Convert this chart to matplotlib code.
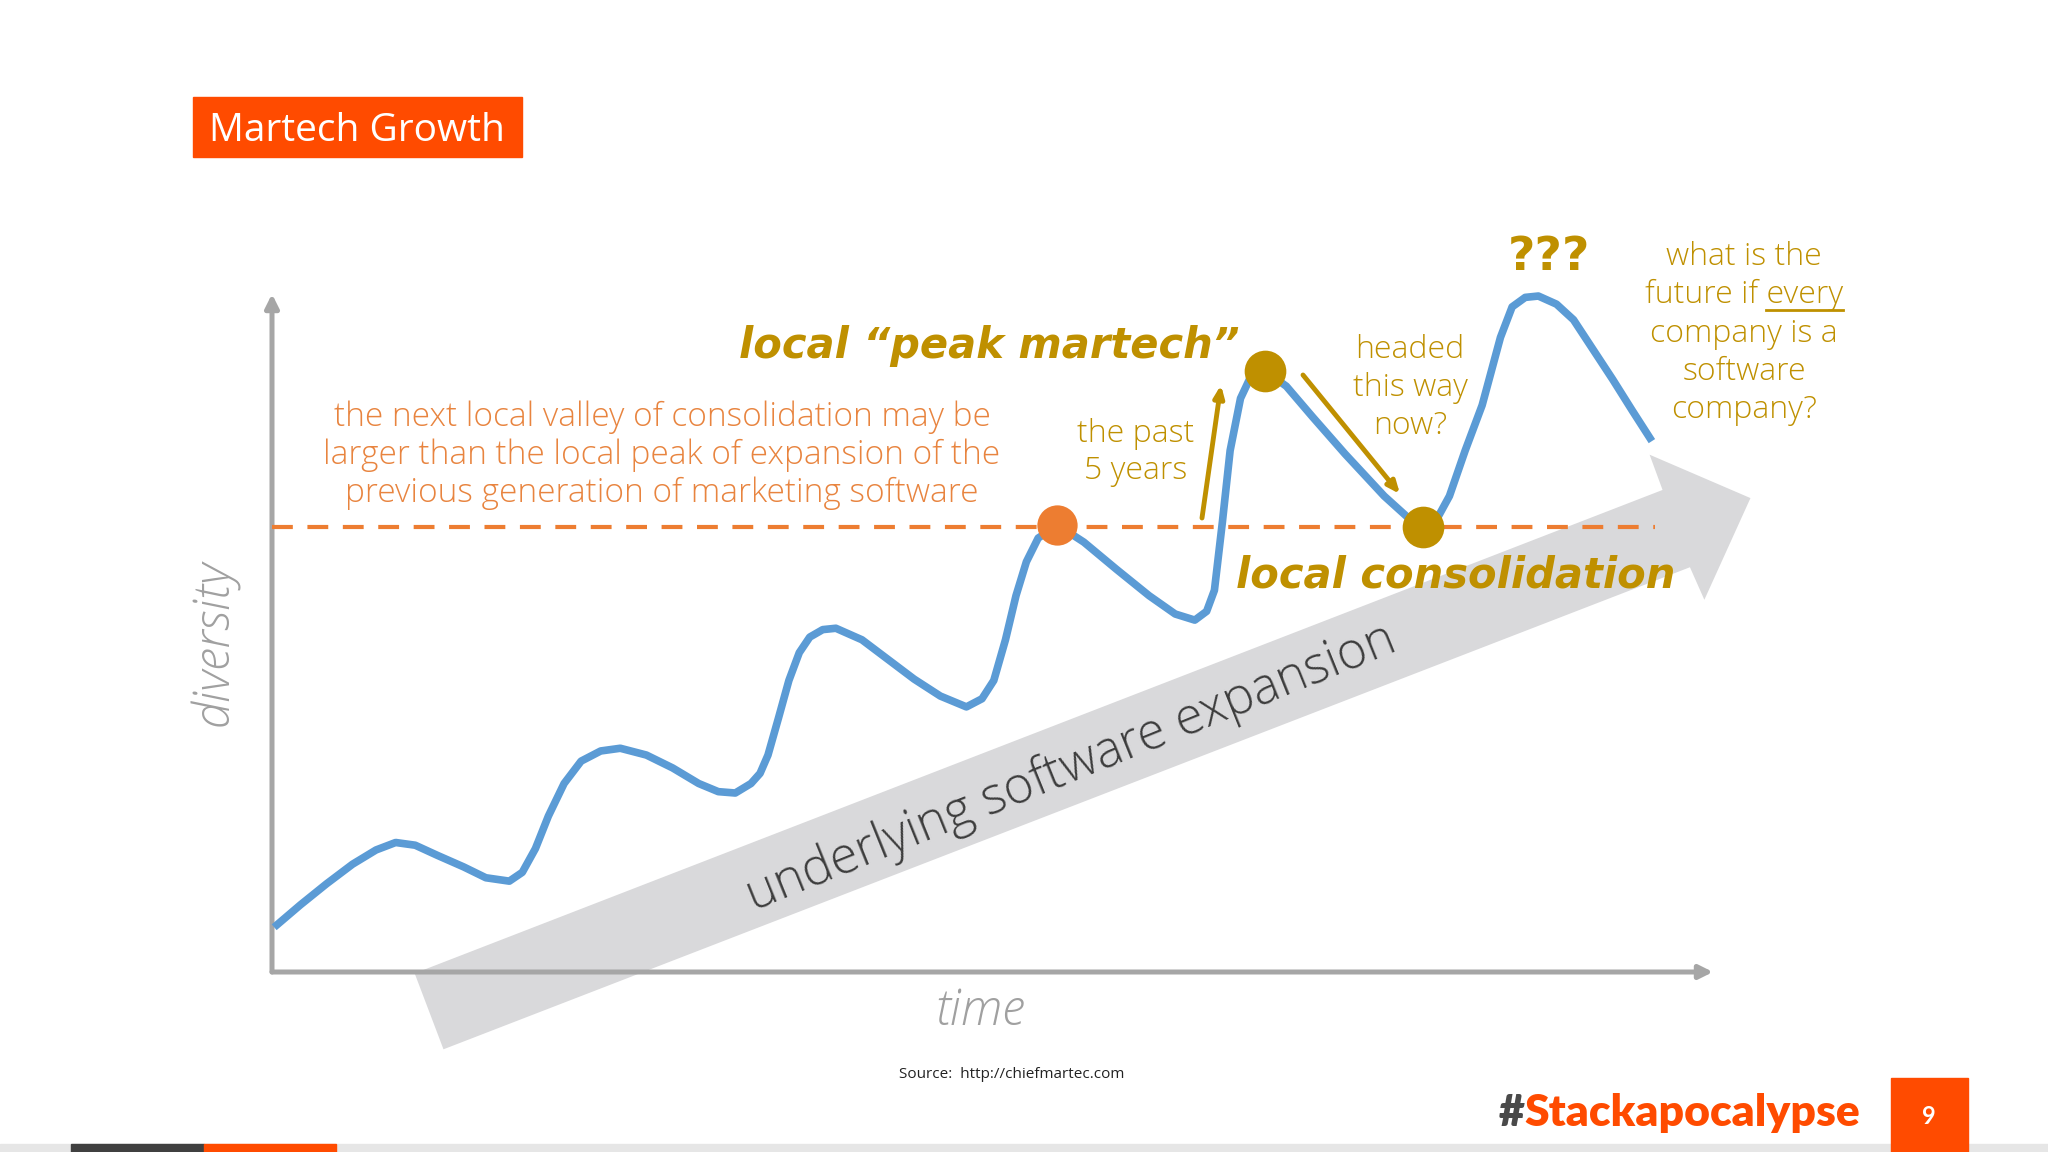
import matplotlib
matplotlib.use("Agg")
import matplotlib.pyplot as plt
from matplotlib.patches import Polygon, Rectangle

# ---- data (time / diversity, both 0..100) ----
curve_time = [0.15, 1.97, 3.78, 5.59, 7.22, 8.58, 9.94, 11.48, 13.30, 14.84, 16.47,
              17.37, 18.28, 19.18, 20.27, 21.45, 22.81, 24.17, 25.98, 27.80, 29.61,
              30.97, 32.15, 33.24, 33.87, 34.42, 35.14, 35.87, 36.59, 37.32, 38.22,
              39.13, 40.94, 42.75, 44.56, 46.38, 48.19, 49.27, 50.09, 50.90, 51.63,
              52.35, 53.17, 54.53, 56.34, 58.60, 60.87, 62.68, 64.04, 64.86, 65.40,
              65.95, 66.49, 67.21, 67.94, 68.76, 70.39, 72.20, 74.47, 77.18, 79.00,
              79.90, 80.81, 81.71, 82.80, 83.98, 85.25, 86.06, 86.97, 87.88, 89.14,
              90.32, 91.68, 93.04, 94.40, 95.76]
curve_diversity = [6.6, 9.9, 13.0, 15.9, 18.0, 19.1, 18.7, 17.2, 15.5, 13.9, 13.4,
                   14.7, 18.2, 23.0, 27.8, 31.1, 32.6, 33.0, 32.0, 30.1, 27.8,
                   26.6, 26.4, 27.8, 29.3, 32.0, 37.4, 43.0, 47.1, 49.4, 50.5,
                   50.7, 49.0, 46.1, 43.2, 40.7, 39.1, 40.3, 43.0, 49.0, 55.5,
                   60.5, 64.0, 65.9, 63.4, 59.4, 55.5, 52.8, 51.9, 53.2, 56.3,
                   66.3, 76.9, 84.6, 87.9, 88.9, 86.4, 81.9, 76.4, 70.2, 66.7,
                   65.7, 66.7, 70.2, 76.9, 83.6, 93.6, 98.1, 99.5, 99.7, 98.5,
                   96.2, 91.8, 87.4, 82.8, 78.3]

consolidation_level = 65.6
consolidation_span = (0.0, 96.0)
prev_peak = (54.5, 65.9)        # orange dot
peak_martech = (68.9, 88.7)     # gold dot at "peak martech"
local_valley = (79.9, 65.6)     # gold dot at "local consolidation"

# big grey "underlying software expansion" arrow outline
trend_arrow_t = [9.9, 96.5, 95.6, 102.6, 99.4, 98.4, 11.9]
trend_arrow_d = [-0.2, 71.1, 76.3, 69.9, 54.9, 59.7, -11.4]

BLUE = "#5B9BD5"
ORANGE = "#ED7D31"
GOLD = "#BF9000"
PARA = "#E8843F"
BRAND = "#FF4B00"
AXIS = "#A6A6A6"
BODY = ["Open Sans", "DejaVu Sans"]
BOLD = ["DejaVu Sans"]
BRANDF = ["Lato", "DejaVu Sans"]
LIGHT = 300

fig = plt.figure(figsize=(20.48, 11.52), dpi=100)
fig.patch.set_facecolor("white")

# chart axes: origin at the axis corner, top = y arrow tip, right = x arrow tip
ax = fig.add_axes([272 / 2048, 1 - 972 / 1152, (1713 - 272) / 2048, (972 - 294) / 1152])
ax.set_xlim(0, 100)
ax.set_ylim(0, 100)
ax.axis("off")

ax.add_patch(Polygon(list(zip(trend_arrow_t, trend_arrow_d)), closed=True,
                     facecolor="#D9D9DB", edgecolor="none", zorder=1, clip_on=False))

# axes drawn as arrows
for end in [(100, 0), (0, 100)]:
    ax.annotate("", xy=end, xytext=(0, 0), zorder=2,
                arrowprops=dict(arrowstyle="-|>,head_length=0.8,head_width=0.4",
                                color=AXIS, lw=3.6, shrinkA=0, shrinkB=0))

ax.plot(consolidation_span, [consolidation_level] * 2, color=ORANGE, lw=3,
        dashes=(5, 3.5), zorder=3, clip_on=False)
ax.plot(curve_time, curve_diversity, color=BLUE, lw=5.5, solid_capstyle="butt",
        solid_joinstyle="round", zorder=4, clip_on=False)
ax.plot(*prev_peak, "o", ms=29, color=ORANGE, mec="none", zorder=5, clip_on=False)
ax.plot(*zip(peak_martech, local_valley), "o", ms=30, ls="none", color=GOLD,
        mec="none", zorder=5, clip_on=False)

# page overlay in reference pixel coordinates
page = fig.add_axes([0, 0, 1, 1], zorder=10)
page.set_xlim(0, 2048)
page.set_ylim(1152, 0)
page.axis("off")

page.add_patch(Rectangle((193, 97), 329, 60, color=BRAND))
page.text(357, 131, "Martech Growth", color="white", fontsize=28, family=BODY,
          ha="center", va="center")

page.text(215, 643, "diversity", color="#A0A0A0", fontsize=35, family=BODY,
          weight=LIGHT, style="italic", rotation=90, ha="center", va="center")
page.text(980, 1012, "time", color="#A0A0A0", fontsize=35, family=BODY,
          weight=LIGHT, style="italic", ha="center", va="center")

page.text(1071, 768, "underlying software expansion", color="#3C3C3C", fontsize=36.5,
          family=BODY, weight=LIGHT, rotation=22, rotation_mode="anchor",
          ha="center", va="center")

para = ["the next local valley of consolidation may be",
        "larger than the local peak of expansion of the",
        "previous generation of marketing software"]
for i, line in enumerate(para):
    page.text(662, 417 + 38 * i, line, color=PARA, fontsize=24, family=BODY,
              weight=LIGHT, ha="center", va="center")

page.text(989, 346, "local \u201cpeak martech\u201d", color=GOLD, fontsize=30,
          family=BOLD, weight="bold", style="italic", ha="center", va="center")
page.text(1456, 576, "local consolidation", color=GOLD, fontsize=30,
          family=BOLD, weight="bold", style="italic", ha="center", va="center")
page.text(1549, 257, "???", color=GOLD, fontsize=34, family=BOLD, weight="bold",
          ha="center", va="center")

for i, line in enumerate(["the past", "5 years"]):
    page.text(1136, 434 + 37 * i, line, color=GOLD, fontsize=23, family=BODY,
              weight=LIGHT, ha="center", va="center")
for i, line in enumerate(["headed", "this way", "now?"]):
    page.text(1410, 350 + 38 * i, line, color=GOLD, fontsize=23, family=BODY,
              weight=LIGHT, ha="center", va="center")
future = ["what is the", "future if every", "company is a", "software", "company?"]
future_txt = []
for i, line in enumerate(future):
    future_txt.append(page.text(1744, 257 + 38.3 * i, line, color=GOLD, fontsize=23,
                                family=BODY, weight=LIGHT, ha="center", va="center"))

page.annotate("", xy=(1221, 385), xytext=(1202, 518),
              arrowprops=dict(arrowstyle="-|>,head_length=0.7,head_width=0.3",
                              color=GOLD, lw=3.5, shrinkA=0, shrinkB=0))
page.annotate("", xy=(1400, 494), xytext=(1303, 375),
              arrowprops=dict(arrowstyle="-|>,head_length=0.7,head_width=0.3",
                              color=GOLD, lw=3.5, shrinkA=0, shrinkB=0))

page.text(1012, 1075, "Source:  http://chiefmartec.com", color="#222222", fontsize=11,
          family=BODY, ha="center", va="center")

# footer
page.add_patch(Rectangle((0, 1144), 2048, 8, color="#E6E6E6"))
page.add_patch(Rectangle((71, 1144), 133, 8, color="#404040"))
page.add_patch(Rectangle((204, 1144), 132, 8, color=BRAND))
page.add_patch(Rectangle((1891, 1078), 77, 74, color=BRAND))
page.text(1929, 1117, "9", color="white", fontsize=17, weight="bold",
          family=BRANDF, ha="center", va="center")
hash_t = page.text(1499, 1113, "#", color="#4A4A4A", fontsize=32, weight="heavy",
                   family=BRANDF, ha="left", va="center")

# underline "every" and place the brand text after the "#"
fig.canvas.draw()
r = fig.canvas.get_renderer()
inv = page.transData.inverted()
bb = future_txt[1].get_window_extent(r)
probe = page.text(0, 0, "every", fontsize=23, family=BODY, weight=LIGHT)
w = probe.get_window_extent(r).width
probe.remove()
(x1, y1) = inv.transform((bb.x1, bb.y0))
(x0, _) = inv.transform((bb.x1 - w, bb.y0))
page.plot([x0, x1], [y1 - 1, y1 - 1], color=GOLD, lw=2)
hb = hash_t.get_window_extent(r)
hx, _ = inv.transform((hb.x1, hb.y0))
page.text(hx, 1113, "Stackapocalypse", color=BRAND, fontsize=32, weight="heavy",
          family=BRANDF, ha="left", va="center")

fig.savefig("out.png", dpi=100)
